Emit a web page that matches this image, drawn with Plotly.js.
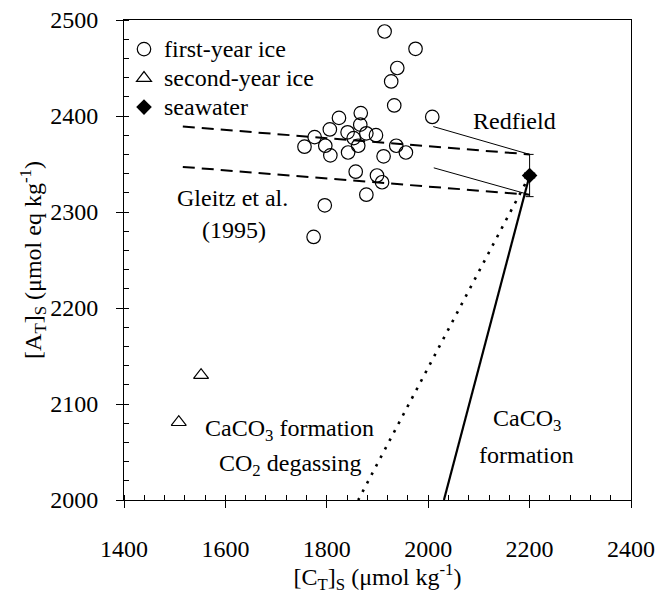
<!DOCTYPE html>
<html>
<head>
<meta charset="utf-8">
<script src="https://cdn.plot.ly/plotly-3.0.1.min.js"></script>
<style>
html,body{margin:0;padding:0;background:#fff;}
#chart{width:658px;height:594px;}
</style>
</head>
<body>
<div id="chart"></div>
<script>
// ---- data ----
var firstYearCT = [1914, 1975, 1939, 1927, 1933, 2008, 1824, 1867, 1866, 1806, 1776, 1841, 1878, 1897, 1853, 1756, 1797, 1862, 1937, 1807, 1842, 1912, 1956, 1857, 1899, 1909, 1878, 1796, 1774];
var firstYearAT = [2488, 2470, 2450, 2436, 2411, 2399, 2398, 2403, 2391, 2386, 2378, 2383, 2382, 2380, 2377, 2368, 2369, 2369, 2369, 2359, 2362, 2358, 2362, 2342, 2338, 2331, 2318, 2307, 2274];

var secondYearCT = [1552, 1508];
var secondYearAT = [2130, 2081];

var seawaterCT = [2200];
var seawaterAT = [2338];
var seawaterErrAT = [22];
var seawaterErrCT = [10];

var gleitzUpperCT = [1516, 2200];
var gleitzUpperAT = [2389, 2360];
var gleitzLowerCT = [1516, 2200];
var gleitzLowerAT = [2347, 2318];

var redfieldUpperCT = [2010, 2200];
var redfieldUpperAT = [2389, 2360];
var redfieldLowerCT = [2011, 2200];
var redfieldLowerAT = [2346, 2318];

var caco3CT = [2200, 2031];
var caco3AT = [2338, 2000];
var caco3DegasCT = [2200, 1862];
var caco3DegasAT = [2338, 2000];

var seriesNames = ['first-year ice', 'second-year ice', 'seawater'];
var xTickVals = [1400, 1600, 1800, 2000, 2200, 2400];
var yTickVals = [2000, 2100, 2200, 2300, 2400, 2500];

var FONT = 'Liberation Serif, Times New Roman, serif';

function line(x, y, width, dash) {
  return {x: x, y: y, type: 'scatter', mode: 'lines', showlegend: false, hoverinfo: 'skip',
          line: {color: '#000', width: width, dash: dash}};
}
function legName(s) { return '<span style="font-size:24px">' + s + '</span>'; }

var traces = [
  line(gleitzUpperCT, gleitzUpperAT, 2, '12px,7px'),
  line(gleitzLowerCT, gleitzLowerAT, 2, '12px,7px'),
  line(redfieldUpperCT, redfieldUpperAT, 1, 'solid'),
  line(redfieldLowerCT, redfieldLowerAT, 1, 'solid'),
  line(caco3CT, caco3AT, 2.2, 'solid'),
  line(caco3DegasCT, caco3DegasAT, 2.6, '2.6px,7px'),
  {x: firstYearCT, y: firstYearAT, type: 'scatter', mode: 'markers', name: legName(seriesNames[0]),
   marker: {symbol: 'circle-open', size: 13.5, color: '#000', line: {width: 1.2, color: '#000'}}},
  {x: secondYearCT, y: secondYearAT, type: 'scatter', mode: 'markers', name: legName(seriesNames[1]),
   marker: {symbol: 'triangle-up-open', size: 13, color: '#000', line: {width: 1.2, color: '#000'}}},
  {x: seawaterCT, y: seawaterAT, type: 'scatter', mode: 'markers', name: legName(seriesNames[2]),
   marker: {symbol: 'diamond', size: 12, color: '#000'},
   error_y: {type: 'data', array: seawaterErrAT, visible: true, color: '#000', thickness: 1, width: 4},
   error_x: {type: 'data', array: seawaterErrCT, visible: true, color: '#000', thickness: 1, width: 3}}
];

function ann(text, x, y) {
  return {text: text, x: x, y: y, xref: 'x', yref: 'y', showarrow: false,
          font: {family: FONT, size: 24, color: '#000'}, xanchor: 'center', yanchor: 'middle'};
}

var layout = {
  width: 658, height: 594,
  margin: {l: 124, r: 26.5, t: 20, b: 94},
  paper_bgcolor: '#fff', plot_bgcolor: '#fff',
  font: {family: FONT, size: 24, color: '#000'},
  showlegend: true,
  legend: {x: 0, y: 0.98, xanchor: 'left', yanchor: 'top', bgcolor: 'rgba(0,0,0,0)',
           font: {family: FONT, size: 20, color: '#000'}, tracegroupgap: 0, itemwidth: 30},
  xaxis: {
    range: [1400, 2400], tickvals: xTickVals, ticktext: xTickVals.map(String),
    ticks: 'outside', ticklen: 7, tickwidth: 1, tickcolor: '#000', ticklabelstandoff: 20,
    showline: true, linewidth: 1, linecolor: '#000', mirror: true,
    showgrid: false, zeroline: false,
    minor: {dtick: 40, tick0: 1400, ticks: 'inside', ticklen: 5, tickwidth: 1, tickcolor: '#000', showgrid: false},
    tickfont: {family: FONT, size: 24, color: '#000'},
    title: {text: '[C<sub>T</sub>]<sub>S</sub> (μmol kg<sup>-1</sup>)', font: {family: FONT, size: 24, color: '#000'}, standoff: 14}
  },
  yaxis: {
    range: [2000, 2500], tickvals: yTickVals, ticktext: yTickVals.map(String),
    ticks: 'outside', ticklen: 7, tickwidth: 1, tickcolor: '#000', ticklabelstandoff: 13,
    showline: true, linewidth: 1, linecolor: '#000', mirror: true,
    showgrid: false, zeroline: false,
    minor: {dtick: 20, tick0: 2000, ticks: 'inside', ticklen: 5, tickwidth: 1, tickcolor: '#000', showgrid: false},
    tickfont: {family: FONT, size: 24, color: '#000'},
    title: {text: '[A<sub>T</sub>]<sub>S</sub> (μmol eq kg<sup>-1</sup>)', font: {family: FONT, size: 24, color: '#000'}, standoff: 1}
  },
  annotations: [
    ann('Gleitz et al.', 1614, 2315),
    ann('(1995)', 1617, 2281),
    ann('Redfield', 2170, 2395),
    ann('CaCO<sub>3</sub> formation', 1727, 2073),
    ann('CO<sub>2</sub> degassing', 1727, 2036),
    ann('CaCO<sub>3</sub>', 2194, 2083),
    ann('formation', 2194, 2047)
  ]
};

Plotly.newPlot('chart', traces, layout, {displayModeBar: false, staticPlot: true});
</script>
</body>
</html>
